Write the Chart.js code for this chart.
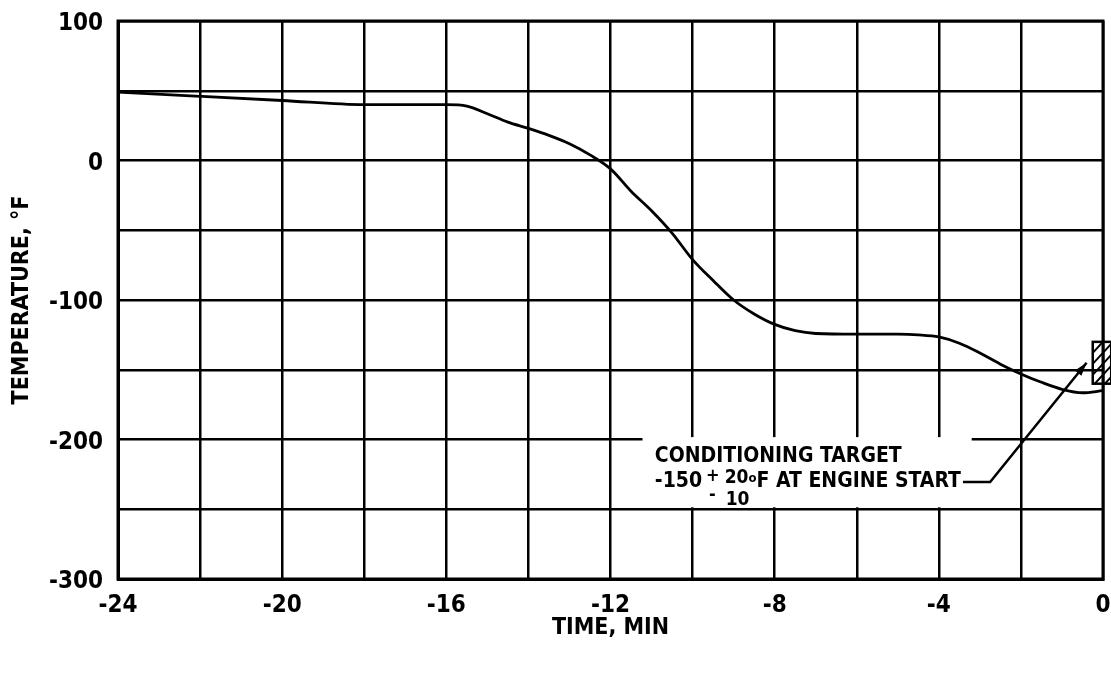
<!DOCTYPE html>
<html>
<head>
<meta charset="utf-8">
<script src="https://cdn.jsdelivr.net/npm/chart.js@4.4.1/dist/chart.umd.min.js"></script>
<style>
  html, body { margin: 0; padding: 0; background: #fff; }
  #wrap { width: 1111px; height: 675px; }
</style>
</head>
<body>
<div id="wrap"><canvas id="tempChart" width="1111" height="675"></canvas></div>
<script>
// time before engine start (min) and temperature (deg F)
const timeMin = [-24, -22, -20, -18, -16, -15.5, -15, -14.5, -14, -13.5, -13, -12.5, -12, -11.5, -11, -10.5, -10, -9.5, -9, -8.5, -8, -7.5, -7, -6, -5, -4.5, -4, -3.5, -3, -2.5, -2, -1.5, -1, -0.5, 0];
const tempF   = [49, 46, 43, 40, 40, 39, 33.5, 27.5, 23, 18, 12, 4, -6, -22, -36, -52, -71, -86, -100, -110, -117.5, -122, -124, -124.5, -124.5, -125, -126.5, -131, -138, -146, -153, -159, -164, -166.5, -165];

const xLabelTicks = [-24, -20, -16, -12, -8, -4, 0];
const yLabelTicks = [100, 0, -100, -200, -300];

// conditioning target: -150 +20 / -10 F at engine start (t = 0)
const targetLow = -160;
const targetHigh = -130;

const FONT = "'Liberation Sans Narrow', 'DejaVu Sans Condensed', sans-serif";

const notePlugin = {
  id: 'note',
  afterDatasetsDraw(chart) {
    const { ctx, chartArea: a, scales: { x, y } } = chart;
    ctx.save();

    // white patch behind the label
    const bx0 = x.getPixelForValue(-11.22), bx1 = x.getPixelForValue(-3.2);
    const by0 = y.getPixelForValue(-198.3), by1 = y.getPixelForValue(-248.6);
    ctx.fillStyle = '#fff';
    ctx.fillRect(bx0, by0, bx1 - bx0, by1 - by0);

    // label text
    ctx.fillStyle = '#000';
    ctx.textAlign = 'left';
    ctx.textBaseline = 'alphabetic';
    const tx = x.getPixelForValue(-10.92);
    const l1 = y.getPixelForValue(-216);
    const l2 = y.getPixelForValue(-234);
    ctx.font = 'bold 21px ' + FONT;
    ctx.fillText('CONDITIONING TARGET', tx, l1);
    ctx.fillText('-150', tx, l2);
    let cx = tx + ctx.measureText('-150').width + 4;
    ctx.font = 'bold 18px ' + FONT;
    ctx.fillText('+', cx, l2 - 6);
    ctx.fillText('-', cx + 3, l2 + 13);
    cx += ctx.measureText('+').width + 5;
    ctx.font = 'bold 19px ' + FONT;
    ctx.fillText('20', cx, l2 - 4);
    ctx.fillText('10', cx + 1, l2 + 18);
    cx += ctx.measureText('20').width;
    ctx.font = 'bold 13px ' + FONT;
    ctx.fillText('o', cx, l2 - 5);
    cx += ctx.measureText('o').width;
    ctx.font = 'bold 21px ' + FONT;
    const rest = 'F AT ENGINE START';
    ctx.fillText(rest, cx, l2);
    const textEnd = cx + ctx.measureText(rest).width;

    // leader line with arrow
    const lineY = l2 - 5;
    const kx = x.getPixelForValue(-2.75);
    const tipX = x.getPixelForValue(-0.4), tipY = y.getPixelForValue(-145);
    ctx.strokeStyle = '#000';
    ctx.lineWidth = 2.5;
    ctx.beginPath();
    ctx.moveTo(textEnd + 2, lineY);
    ctx.lineTo(kx, lineY);
    ctx.lineTo(tipX, tipY);
    ctx.stroke();
    const ang = Math.atan2(tipY - lineY, tipX - kx);
    ctx.beginPath();
    ctx.moveTo(tipX, tipY);
    ctx.lineTo(tipX - 14 * Math.cos(ang - 0.3), tipY - 14 * Math.sin(ang - 0.3));
    ctx.lineTo(tipX - 14 * Math.cos(ang + 0.3), tipY - 14 * Math.sin(ang + 0.3));
    ctx.closePath();
    ctx.fill();

    // hatched target box
    const hx0 = x.getPixelForValue(-0.25), hx1 = x.getPixelForValue(0.2);
    const hy0 = y.getPixelForValue(targetHigh), hy1 = y.getPixelForValue(targetLow);
    ctx.lineWidth = 2.5;
    ctx.strokeRect(hx0, hy0, hx1 - hx0, hy1 - hy0);
    ctx.save();
    ctx.beginPath();
    ctx.rect(hx0, hy0, hx1 - hx0, hy1 - hy0);
    ctx.clip();
    ctx.lineWidth = 2;
    for (let k = hy0 - 20; k < hy1 + 30; k += 11) {
      ctx.beginPath();
      ctx.moveTo(hx0, k + 20);
      ctx.lineTo(hx1, k);
      ctx.stroke();
    }
    ctx.restore();

    // heavy frame
    ctx.lineWidth = 3;
    ctx.strokeRect(a.left, a.top, a.right - a.left, a.bottom - a.top);
    ctx.restore();
  }
};

new Chart(document.getElementById('tempChart'), {
  type: 'scatter',
  data: {
    datasets: [{
      data: timeMin.map((t, i) => ({ x: t, y: tempF[i] })),
      showLine: true,
      borderColor: '#000',
      borderWidth: 2.8,
      pointRadius: 0,
      cubicInterpolationMode: 'monotone',
      fill: false
    }]
  },
  options: {
    responsive: false,
    animation: false,
    devicePixelRatio: 1,
    layout: { padding: { top: 21, right: 8, left: 0, bottom: 0 } },
    plugins: { legend: { display: false }, tooltip: { enabled: false } },
    scales: {
      x: {
        type: 'linear',
        min: -24,
        max: 0,
        afterFit(scale) {
          scale.height = 96;
          scale.paddingLeft = 0;
          scale.paddingRight = 0;
        },
        ticks: {
          stepSize: 2,
          color: '#000',
          font: { family: FONT, size: 24, weight: 'bold' },
          padding: 12,
          maxRotation: 0,
          autoSkip: false,
          callback: v => xLabelTicks.includes(v) ? String(v) : ''
        },
        grid: { color: '#000', lineWidth: 2.5, drawTicks: false },
        border: { display: true, color: '#000', width: 3 },
        title: {
          display: true,
          text: 'TIME, MIN',
          color: '#000',
          font: { family: FONT, size: 23, weight: 'bold' },
          padding: { top: 0, bottom: 33 }
        }
      },
      y: {
        type: 'linear',
        min: -300,
        max: 100,
        afterFit(scale) {
          scale.width = 118;
          scale.paddingTop = 0;
          scale.paddingBottom = 0;
        },
        ticks: {
          stepSize: 50,
          color: '#000',
          font: { family: FONT, size: 24, weight: 'bold' },
          padding: 15,
          labelOffset: 3,
          autoSkip: false,
          callback: v => yLabelTicks.includes(v) ? String(v) : ''
        },
        grid: { color: '#000', lineWidth: 2.5, drawTicks: false },
        border: { display: true, color: '#000', width: 3 },
        title: {
          display: true,
          text: 'TEMPERATURE, °F',
          color: '#000',
          font: { family: FONT, size: 23, weight: 'bold' },
          padding: { top: 8, bottom: 0 }
        }
      }
    }
  },
  plugins: [notePlugin]
});
</script>
</body>
</html>
